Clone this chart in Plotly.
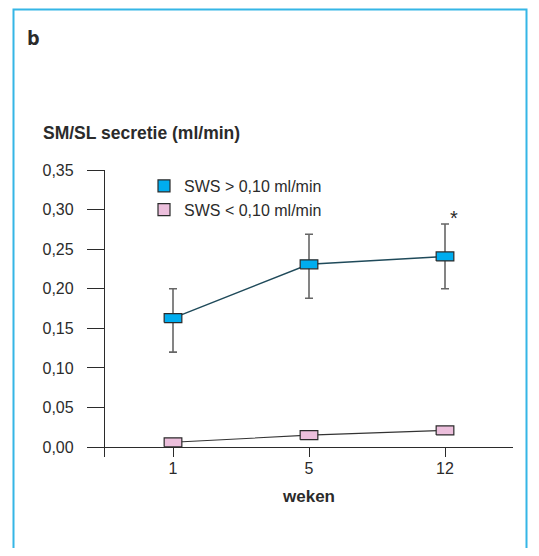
import plotly.graph_objects as go

# ---- data ----
weeks = ["1", "5", "12"]
high_name = "SWS > 0,10 ml/min"
low_name = "SWS < 0,10 ml/min"
high_mean = [0.163, 0.231, 0.241]
high_upper = [0.200, 0.269, 0.282]
high_lower = [0.120, 0.188, 0.200]
low_mean = [0.006, 0.015, 0.021]
y_ticks = [0.00, 0.05, 0.10, 0.15, 0.20, 0.25, 0.30, 0.35]

# ---- layout geometry (page has an 8px body margin) ----
OFF = 8
W, H = 539 - 2 * OFF, 556 - 2 * OFF
L, R, T, B = 105 - OFF, W - (513 - OFF), 170 - OFF, H - (457 - OFF)
PW, PH = W - L - R, H - T - B
Y_RANGE = [-0.0126, 0.3502]
BOX_H = 0.0114   # marker box height (data units)
BOX_W = 0.13     # marker box width (category units)

def px_x(sx):
    return (sx - OFF - L) / PW

def px_y(sy):
    return (H - B - (sy - OFF)) / PH

FONT = "Liberation Sans, Arial, sans-serif"
DARK = "#2b2b2b"
BLUE = "#00adef"
PINK = "#ecbfdc"

x_pos = list(range(len(weeks)))

def box_outline(xs, ys):
    """Rectangle marker outlines (None-separated) around each data point."""
    bx, by = [], []
    hw, hh = BOX_W / 2, BOX_H / 2
    for x, y in zip(xs, ys):
        bx += [x - hw, x + hw, x + hw, x - hw, x - hw, None]
        by += [y - hh, y - hh, y + hh, y + hh, y - hh, None]
    return bx, by

fig = go.Figure()

# legend entries (outlined boxes)
fig.add_trace(go.Bar(x=[None], y=[None], name=high_name, legendgroup="high",
                     marker=dict(color=BLUE, line=dict(color=DARK, width=1.2))))
fig.add_trace(go.Bar(x=[None], y=[None], name=low_name, legendgroup="low",
                     marker=dict(color=PINK, line=dict(color=DARK, width=1.2))))

# connecting lines + error bars (below the boxes)
fig.add_trace(go.Scatter(
    x=x_pos, y=high_mean, mode="lines", legendgroup="high",
    line=dict(color="#1f4a5a", width=1.5),
    error_y=dict(type="data", symmetric=False,
                 array=[u - m for u, m in zip(high_upper, high_mean)],
                 arrayminus=[m - l for m, l in zip(high_mean, high_lower)],
                 color="#666666", thickness=1.6, width=4),
    showlegend=False, hoverinfo="skip"))
fig.add_trace(go.Scatter(
    x=x_pos, y=low_mean, mode="lines", legendgroup="low",
    line=dict(color="#333333", width=1.1),
    showlegend=False, hoverinfo="skip"))

# rectangular markers
hx, hy = box_outline(x_pos, high_mean)
fig.add_trace(go.Scatter(
    x=hx, y=hy, mode="lines", fill="toself", fillcolor=BLUE, legendgroup="high",
    line=dict(color=DARK, width=1.2), name=high_name, showlegend=False,
    hoverinfo="skip"))
lx, ly = box_outline(x_pos, low_mean)
fig.add_trace(go.Scatter(
    x=lx, y=ly, mode="lines", fill="toself", fillcolor=PINK, legendgroup="low",
    line=dict(color=DARK, width=1.2), name=low_name, showlegend=False,
    hoverinfo="skip"))

fig.update_layout(
    width=W, height=H,
    margin=dict(l=L, r=R, t=T, b=B, pad=0),
    paper_bgcolor="white", plot_bgcolor="white",
    separators=",.",
    font=dict(family=FONT, size=16, color=DARK),
    showlegend=True,
    legend=dict(x=px_x(144), y=px_y(169), xanchor="left", yanchor="top",
                bgcolor="rgba(0,0,0,0)", font=dict(size=16, color=DARK),
                tracegroupgap=0),
    xaxis=dict(range=[-0.5, 2.5], showgrid=False,
               tickvals=x_pos, ticktext=weeks,
               showline=False, zeroline=False,
               ticks="inside", ticklen=10, tickwidth=1.3, tickcolor=DARK,
               tickfont=dict(size=16, color=DARK),
               title=dict(text="<b>weken</b>", font=dict(size=17, color=DARK),
                          standoff=14)),
    yaxis=dict(range=Y_RANGE, showgrid=False,
               showline=True, linecolor=DARK, linewidth=1.3,
               zeroline=True, zerolinecolor=DARK, zerolinewidth=1.3,
               tickvals=y_ticks, tickformat=".2f",
               ticks="outside", ticklen=17, tickwidth=1.3, tickcolor=DARK,
               ticklabelstandoff=10,
               tickfont=dict(size=16, color=DARK)),
    shapes=[dict(type="rect", xref="paper", yref="paper",
                 x0=px_x(13.5), x1=px_x(526.5), y0=px_y(620), y1=px_y(9.5),
                 line=dict(color="#35b6e6", width=2), fillcolor="rgba(0,0,0,0)",
                 layer="below")],
    annotations=[
        dict(text="<b>b</b>", xref="paper", yref="paper",
             x=px_x(25), y=px_y(37), xanchor="left", yanchor="middle",
             showarrow=False, font=dict(family="Open Sans, sans-serif", size=20, color=DARK)),
        dict(text="<b>SM/SL secretie (ml/min)</b>", xref="paper", yref="paper",
             x=px_x(41), y=px_y(133), xanchor="left", yanchor="middle",
             showarrow=False, font=dict(size=17.5, color=DARK)),
        dict(text="*", xref="x", yref="y", x=x_pos[2], y=high_upper[2],
             xshift=9, yshift=-7, xanchor="center", yanchor="bottom",
             showarrow=False, font=dict(size=20, color=DARK)),
    ],
)

fig.write_html("out.html")
